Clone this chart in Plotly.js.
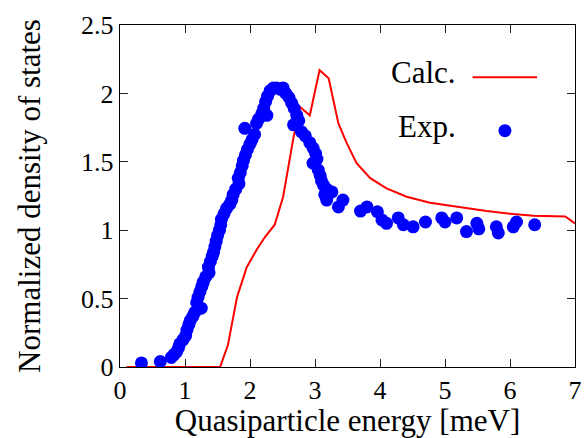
<!DOCTYPE html>
<html>
<head>
<meta charset="utf-8">
<script src="https://cdn.plot.ly/plotly-3.0.1.min.js"></script>
<style>html,body{margin:0;padding:0;background:#fff;}#chart{width:587px;height:438px;}</style>
</head>
<body>
<div id="chart"></div>
<script>
// Calculated DOS (red line)
const calcE = [0.10, 1.54, 1.66, 1.80, 1.95, 2.10, 2.23, 2.38, 2.51, 2.67, 2.77, 2.92, 3.07, 3.21, 3.36, 3.49, 3.64, 3.85, 4.10, 4.41, 4.77, 5.18, 5.64, 6.05, 6.36, 6.85, 7.00];
const calcD = [0.00, 0.00, 0.16, 0.51, 0.73, 0.855, 0.95, 1.04, 1.245, 1.68, 1.90, 1.84, 2.17, 2.11, 1.78, 1.635, 1.49, 1.38, 1.306, 1.245, 1.20, 1.17, 1.14, 1.118, 1.106, 1.10, 1.05];

// Experimental DOS (blue dots)
const expE = [0.33, 0.62, 0.79, 0.83, 0.87, 0.90, 0.92, 0.97, 1.01, 1.03, 1.06, 1.08, 1.12, 1.15, 1.25, 1.18, 1.20, 1.23, 1.26, 1.28, 1.32, 1.37, 1.36, 1.39, 1.42, 1.44, 1.46, 1.48, 1.50, 1.53, 1.55, 1.56, 1.60, 1.64, 1.69, 1.72, 1.74, 1.78, 1.83, 1.82, 1.85, 1.88, 1.90, 1.93, 1.96, 2.00, 2.03, 2.07, 1.92, 2.10, 2.13, 2.18, 2.21, 2.26, 2.24, 2.27, 2.31, 2.36, 2.41, 2.47, 2.51, 2.55, 2.60, 2.64, 2.68, 2.72, 2.67, 2.75, 2.79, 2.85, 2.92, 2.97, 3.01, 3.03, 2.97, 3.05, 3.08, 3.10, 3.13, 3.18, 3.15, 3.26, 3.18, 3.36, 3.43, 3.70, 3.80, 3.96, 4.03, 4.10, 4.28, 4.36, 4.51, 4.70, 4.95, 5.00, 5.18, 5.33, 5.49, 5.52, 5.79, 5.82, 6.05, 6.10, 6.38];
const expD = [0.03, 0.04, 0.07, 0.09, 0.11, 0.14, 0.17, 0.20, 0.23, 0.27, 0.31, 0.34, 0.37, 0.40, 0.43, 0.47, 0.51, 0.55, 0.59, 0.62, 0.66, 0.69, 0.73, 0.77, 0.81, 0.84, 0.88, 0.92, 0.96, 1.00, 1.04, 1.08, 1.12, 1.16, 1.19, 1.22, 1.26, 1.30, 1.34, 1.38, 1.42, 1.47, 1.51, 1.55, 1.59, 1.63, 1.66, 1.70, 1.745, 1.78, 1.81, 1.85, 1.89, 1.84, 1.94, 1.98, 2.02, 2.04, 2.04, 2.03, 2.04, 2.00, 1.97, 1.93, 1.89, 1.84, 1.77, 1.80, 1.72, 1.69, 1.64, 1.60, 1.56, 1.52, 1.49, 1.44, 1.40, 1.36, 1.33, 1.30, 1.26, 1.28, 1.22, 1.17, 1.22, 1.14, 1.17, 1.135, 1.075, 1.05, 1.09, 1.04, 1.025, 1.06, 1.09, 1.06, 1.09, 0.99, 1.05, 1.01, 1.025, 0.98, 1.025, 1.06, 1.04];

const xTicks = [0, 1, 2, 3, 4, 5, 6, 7];
const yTicks = [0, 0.5, 1, 1.5, 2, 2.5];
const yTickText = ['0', '0.5', '1', '1.5', '2', '2.5'];
const legendNames = ['Calc.', 'Exp.'];

const FONT = "'Liberation Serif', 'Times New Roman', serif";
const traces = [
  {x: calcE, y: calcD, type: 'scatter', mode: 'lines', name: legendNames[0],
   line: {color: '#ff0000', width: 2}, cliponaxis: true},
  {x: expE, y: expD, type: 'scatter', mode: 'markers', name: legendNames[1],
   marker: {color: '#0000ff', size: 13}, cliponaxis: true}
];

const axisCommon = {
  showgrid: false, zeroline: false,
  showline: true, linecolor: '#000', linewidth: 1.2, mirror: 'ticks',
  ticks: 'inside', ticklen: 8, tickwidth: 1, tickcolor: '#222',
  tickfont: {family: FONT, size: 26, color: '#000'}
};

const layout = {
  width: 587, height: 438,
  margin: {l: 120, r: 12, t: 25, b: 71},
  paper_bgcolor: '#fff', plot_bgcolor: '#fff',
  font: {family: FONT, color: '#000'},
  showlegend: false,
  xaxis: Object.assign({}, axisCommon, {
    range: [0, 7], tickvals: xTicks, ticktext: xTicks.map(String),
    title: {text: 'Quasiparticle energy [meV]', font: {family: FONT, size: 31, color: '#000'}, standoff: 5}
  }),
  yaxis: Object.assign({}, axisCommon, {
    range: [0, 2.5], tickvals: yTicks, ticktext: yTickText,
    title: {text: 'Normalized density of states', font: {family: FONT, size: 31, color: '#000'}, standoff: 31}
  }),
  annotations: [
    {text: legendNames[0], xref: 'paper', yref: 'paper', x: 0.743, y: 0.86, xanchor: 'right', yanchor: 'middle', showarrow: false, font: {family: FONT, size: 31, color: '#000'}},
    {text: legendNames[1], xref: 'paper', yref: 'paper', x: 0.743, y: 0.702, xanchor: 'right', yanchor: 'middle', showarrow: false, font: {family: FONT, size: 31, color: '#000'}}
  ],
  shapes: [
    {type: 'line', xref: 'paper', yref: 'paper', x0: 0.775, x1: 0.9165, y0: 0.847, y1: 0.847, line: {color: '#ff0000', width: 2}},
    {type: 'circle', xref: 'paper', yref: 'paper', xsizemode: 'pixel', ysizemode: 'pixel', xanchor: 0.846, yanchor: 0.691, x0: -6.5, x1: 6.5, y0: -6.5, y1: 6.5, fillcolor: '#0000ff', line: {width: 0}}
  ]
};

Plotly.newPlot('chart', traces, layout, {displayModeBar: false, staticPlot: true});
</script>
</body>
</html>
